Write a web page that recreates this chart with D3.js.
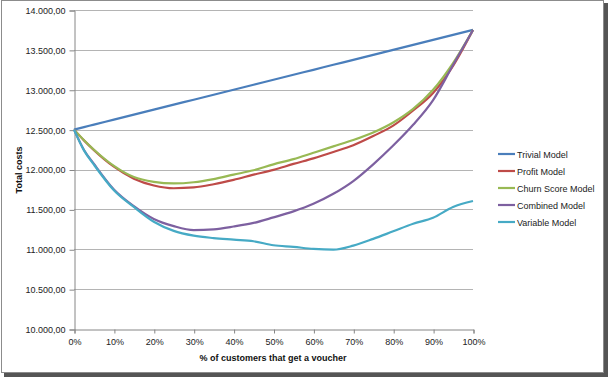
<!DOCTYPE html>
<html><head><meta charset="utf-8">
<script src="https://cdn.jsdelivr.net/npm/d3@7"></script>
<style>
html,body{margin:0;padding:0;background:#fff;}
text{font-family:"Liberation Sans",Arial,sans-serif;}
</style>
</head><body>
<svg id="c" width="609" height="379"></svg>
<script>
const pct = [0,2.5,5,10,15,20,25,30,35,40,45,50,55,60,65,70,75,80,85,90,95,100];
const trivial  = [12500,12531,12563,12625,12688,12750,12813,12875,12938,13000,13063,13125,13188,13250,13313,13375,13438,13500,13563,13625,13688,13750];
const profit   = [12500,12365,12243,12035,11885,11800,11765,11775,11815,11870,11935,11995,12070,12140,12220,12305,12420,12550,12740,12960,13300,13750];
const churn    = [12500,12368,12248,12045,11905,11845,11825,11840,11880,11935,11990,12065,12130,12210,12290,12370,12465,12590,12760,13000,13335,13750];
const combined = [12500,12245,12070,11750,11540,11380,11290,11240,11250,11285,11330,11400,11475,11570,11695,11855,12065,12300,12560,12870,13310,13750];
const variable = [12500,12240,12060,11740,11530,11345,11230,11170,11140,11120,11100,11050,11030,11005,10995,11045,11130,11225,11320,11395,11530,11605];
const seriesNames = ["Trivial Model","Profit Model","Churn Score Model","Combined Model","Variable Model"];
const seriesColors = ["#4a7ebb","#be4b48","#98b954","#7d60a0","#46aac5"];
const yTicks = [10000,10500,11000,11500,12000,12500,13000,13500,14000];
const xTicks = [0,10,20,30,40,50,60,70,80,90,100];
const yTitle = "Total costs";
const xTitle = "% of customers that get a voucher";

const svg = d3.select("#c");
// frame with shadow
svg.append("rect").attr("x",4).attr("y",3).attr("width",604).attr("height",374).attr("fill","#555");
svg.append("rect").attr("x",1.5).attr("y",0.5).attr("width",602).attr("height",372).attr("fill","#fff").attr("stroke","#8c8c8c");

const x = d3.scaleLinear().domain([0,100]).range([74,473]);
const y = d3.scaleLinear().domain([10000,14000]).range([329,10]);

const fmt = v => d3.format(",.2f")(v).replace(/,/g,"#").replace(/\./g,",").replace(/#/g,".");

// gridlines
svg.append("g").selectAll("line").data(yTicks.filter(v=>v>10000)).join("line")
  .attr("x1",74).attr("x2",473).attr("y1",d=>Math.round(y(d))+0.5).attr("y2",d=>Math.round(y(d))+0.5)
  .attr("stroke","#b4b4b4").attr("stroke-width",1);

// y axis
const ya = svg.append("g").attr("transform","translate(74.5,0.5)")
  .call(d3.axisLeft(y).tickValues(yTicks).tickFormat(fmt).tickSize(5).tickPadding(4));
ya.select(".domain").attr("stroke","#868686");
ya.selectAll(".tick line").attr("stroke","#868686");
ya.selectAll("text").attr("font-size","9px").attr("fill","#222");

// x axis
const xa = svg.append("g").attr("transform","translate(0.5,329.5)")
  .call(d3.axisBottom(x).tickValues(xTicks).tickFormat(d=>d+"%").tickSize(4).tickPadding(5));
xa.select(".domain").attr("stroke","#868686");
xa.selectAll(".tick line").attr("stroke","#868686");
xa.selectAll("text").attr("font-size","9px").attr("fill","#222");

// titles
svg.append("text").attr("x",273).attr("y",361).attr("text-anchor","middle")
  .attr("font-size","9px").attr("font-weight","bold").attr("fill","#111").text(xTitle);
svg.append("text").attr("transform","translate(22,170) rotate(-90)").attr("text-anchor","middle")
  .attr("font-size","9px").attr("font-weight","bold").attr("fill","#111").text(yTitle);

// lines
const data = [trivial,profit,churn,combined,variable];
const line = d3.line().x((d,i)=>x(pct[i])).y(d=>y(d)).curve(d3.curveMonotoneX);
svg.append("g").selectAll("path").data(data).join("path")
  .attr("d",line).attr("fill","none").attr("stroke",(d,i)=>seriesColors[i])
  .attr("stroke-width",2.2).attr("stroke-linejoin","round");

// legend
const lg = svg.append("g").selectAll("g").data(seriesNames).join("g")
  .attr("transform",(d,i)=>`translate(498,${154+i*17})`);
lg.append("line").attr("x1",0).attr("x2",17).attr("y1",0).attr("y2",0)
  .attr("stroke",(d,i)=>seriesColors[i]).attr("stroke-width",2.2);
lg.append("text").attr("x",19).attr("y",3.5).attr("font-size","9px").attr("fill","#222").text(d=>d);
</script>
</body></html>
